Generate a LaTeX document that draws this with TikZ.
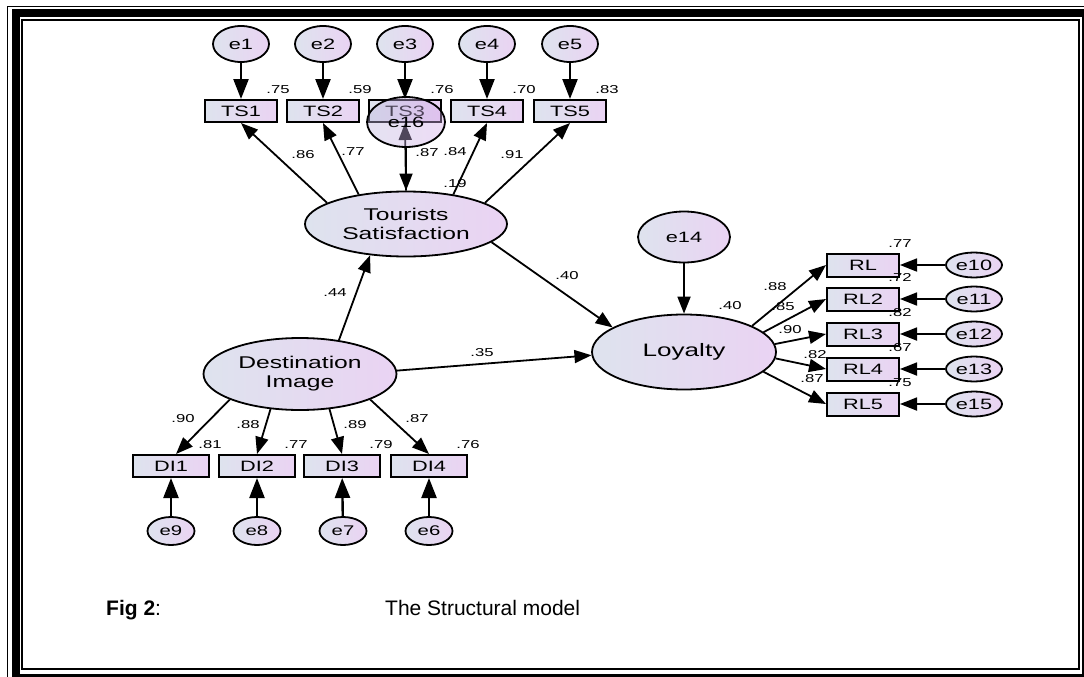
\documentclass[tikz,border=0pt]{standalone}
\usepackage{fontspec}
\setmainfont{Liberation Sans}
\newfontfamily\amosfont[FakeStretch=1.45]{Liberation Sans}
\usepackage{tikz}
\usetikzlibrary{positioning, shapes, arrows.meta}
\definecolor{amosgrey}{RGB}{222,227,238}
\definecolor{amoslilac}{RGB}{234,211,243}
\definecolor{overgrey}{RGB}{188,182,220}
\definecolor{overlilac}{RGB}{210,168,232}

\tikzset{
	lat/.style={ellipse, draw, line width=1.8pt, left color=amosgrey, right color=amoslilac, inner sep=0pt, align=center, font=\amosfont\fontsize{17}{19}\selectfont},
	obs/.style={rectangle, draw, line width=2pt, left color=amosgrey, right color=amoslilac, minimum width=72pt, minimum height=22pt, inner sep=0pt, font=\amosfont\fontsize{15}{16}\selectfont},
	err/.style={ellipse, draw, line width=1.8pt, left color=amosgrey, right color=amoslilac, inner sep=0pt, font=\amosfont\fontsize{15}{16}\selectfont},
	num/.style={inner sep=0pt, font=\amosfont\fontsize{11.5}{12}\selectfont},
	pth/.style={line width=1.8pt, -{Triangle[length=17pt, width=13pt]}},
	errpth/.style={line width=2.4pt, -{Triangle[length=20pt, width=15pt]}},
	capt/.style={inner sep=0pt, font=\fontsize{21}{23}\selectfont}
}

\begin{document}
\begin{tikzpicture}[x=1pt, y=-1pt]
	\useasboundingbox (0,0) rectangle (1084,677);
	% Frame:
	\begin{scope}
		\clip (0,0) rectangle (1084,677);
		\draw[line width=1.5pt] (7.5,6.5) rectangle (1100,700);
		\draw[line width=8pt] (15.5,13) rectangle (1085.5,677.5);
		\draw[line width=2pt] (22,20) rectangle (1079,669);
	\end{scope}

	% Tourists satisfaction block:
	\node[err, minimum width=56pt, minimum height=36pt] (e1) at (241,44) {e1};
	\node[err, minimum width=56pt, minimum height=36pt] (e2) at (323,44) {e2};
	\node[err, minimum width=56pt, minimum height=36pt] (e3) at (405,44) {e3};
	\node[err, minimum width=56pt, minimum height=36pt] (e4) at (487,44) {e4};
	\node[err, minimum width=56pt, minimum height=36pt] (e5) at (570,44) {e5};
	\node[obs] (TS1) at (241,111) {TS1};
	\node[obs] (TS2) at (323,111) {TS2};
	\node[obs] (TS3) at (405,111) {TS3};
	\node[obs] (TS4) at (487,111) {TS4};
	\node[obs] (TS5) at (570,111) {TS5};
	\node[lat, minimum width=202pt, minimum height=65pt] (TSat) at (406,224) {Tourists\\Satisfaction};
	\draw[errpth] (e1) -- (TS1);
	\draw[errpth] (e2) -- (TS2);
	\draw[errpth] (e3) -- (TS3);
	\draw[errpth] (e4) -- (TS4);
	\draw[errpth] (e5) -- (TS5);
	\draw[pth] (TSat.165) -- (TS1.south);
	\draw[pth] (TSat.148) -- (TS2.south);
	\draw[pth] (TSat.north) -- (TS3.south);
	\draw[pth] (TSat.32) -- (TS4.south);
	\draw[pth] (TSat.15) -- (TS5.south);
	% e16 sits on top of TS3
	\node[err, minimum width=78pt, minimum height=50pt, left color=overgrey, right color=overlilac, fill opacity=0.4, text opacity=1] (e16) at (406,122) {e16};
	\draw[pth] (e16) -- (TSat.north);
	\node[num, above=5pt of TS1.north east] (rTS1) {.75};
	\node[num, above=5pt of TS2.north east] (rTS2) {.59};
	\node[num, above=5pt of TS3.north east] (rTS3) {.76};
	\node[num, above=5pt of TS4.north east] (rTS4) {.70};
	\node[num, above=5pt of TS5.north east] (rTS5) {.83};
	\node[num] (lTS1) at (303,155) {.86};
	\node[num] (lTS2) at (353,152) {.77};
	\node[num] (lTS3) at (427,153) {.87};
	\node[num] (lTS4) at (455,152) {.84};
	\node[num] (lTS5) at (512,155) {.91};
	\node[num] (rTSat) at (455,184) {.19};

	% Destination image block:
	\node[lat, minimum width=193pt, minimum height=72pt] (DImg) at (300,374) {Destination\\Image};
	\node[obs, minimum width=76pt] (DI1) at (171,466) {DI1};
	\node[obs, minimum width=76pt] (DI2) at (257,466) {DI2};
	\node[obs, minimum width=76pt] (DI3) at (342,466) {DI3};
	\node[obs, minimum width=76pt] (DI4) at (429,466) {DI4};
	\node[err, minimum width=47pt, minimum height=28pt, font=\amosfont\fontsize{14}{15}\selectfont] (e9) at (171,531) {e9};
	\node[err, minimum width=47pt, minimum height=28pt, font=\amosfont\fontsize{14}{15}\selectfont] (e8) at (257,531) {e8};
	\node[err, minimum width=47pt, minimum height=28pt, font=\amosfont\fontsize{14}{15}\selectfont] (e7) at (343,531) {e7};
	\node[err, minimum width=47pt, minimum height=28pt, font=\amosfont\fontsize{14}{15}\selectfont] (e6) at (429,531) {e6};
	\draw[pth] (DImg.200) -- ([xshift=5pt]DI1.north);
	\draw[pth] (DImg.230) -- (DI2.north);
	\draw[pth] (DImg.310) -- (DI3.north);
	\draw[pth] (DImg.340) -- (DI4.north);
	\draw[errpth] (e9) -- (DI1);
	\draw[errpth] (e8) -- (DI2);
	\draw[errpth] (e7) -- (DI3);
	\draw[errpth] (e6) -- (DI4);
	\node[num, above=5pt of DI1.north east] (rDI1) {.81};
	\node[num, above=5pt of DI2.north east] (rDI2) {.77};
	\node[num, above=5pt of DI3.north east] (rDI3) {.79};
	\node[num, above=5pt of DI4.north east] (rDI4) {.76};
	\node[num] (lDI1) at (183,419) {.90};
	\node[num] (lDI2) at (248,425) {.88};
	\node[num] (lDI3) at (355,425) {.89};
	\node[num] (lDI4) at (417,419) {.87};

	% Loyalty block:
	\node[lat, minimum width=184pt, minimum height=75pt, font=\amosfont\fontsize{18}{19}\selectfont] (Loy) at (684,352) {Loyalty};
	\node[err, minimum width=92pt, minimum height=51pt] (e14) at (684,237) {e14};
	\node[obs, minimum height=23pt] (RL1) at (863,265) {RL};
	\node[obs, minimum height=23pt] (RL2) at (863,299) {RL2};
	\node[obs, minimum height=23pt] (RL3) at (863,334) {RL3};
	\node[obs, minimum height=23pt] (RL4) at (863,369) {RL4};
	\node[obs, minimum height=23pt] (RL5) at (863,404) {RL5};
	\node[err, minimum width=56pt, minimum height=25pt] (e10) at (974,265) {e10};
	\node[err, minimum width=56pt, minimum height=25pt] (e11) at (974,299) {e11};
	\node[err, minimum width=56pt, minimum height=25pt] (e12) at (974,334) {e12};
	\node[err, minimum width=56pt, minimum height=25pt] (e13) at (974,369) {e13};
	\node[err, minimum width=56pt, minimum height=25pt] (e15) at (974,404) {e15};
	\draw[pth] (e14) -- (Loy);
	\draw[pth] (Loy.21) -- (RL1.west);
	\draw[pth] (Loy.14) -- (RL2.west);
	\draw[pth] (Loy.5) -- (RL3.west);
	\draw[pth] (Loy.356) -- (RL4.west);
	\draw[pth] (Loy.346) -- (RL5.west);
	\draw[pth] (e10) -- (RL1);
	\draw[pth] (e11) -- (RL2);
	\draw[pth] (e12) -- (RL3);
	\draw[pth] (e13) -- (RL4);
	\draw[pth] (e15) -- (RL5);
	\node[num, above=5pt of RL1.north east] (rRL1) {.77};
	\node[num, above=5pt of RL2.north east] (rRL2) {.72};
	\node[num, above=5pt of RL3.north east] (rRL3) {.82};
	\node[num, above=5pt of RL4.north east] (rRL4) {.67};
	\node[num, above=5pt of RL5.north east] (rRL5) {.75};
	\node[num] (lRL1) at (775,287) {.88};
	\node[num] (lRL2) at (783,307) {.85};
	\node[num] (lRL3) at (790,330) {.90};
	\node[num] (lRL4) at (815,355) {.82};
	\node[num] (lRL5) at (812,379) {.87};
	\node[num] (rLoy) at (730,306) {.40};

	% Structural paths:
	\draw[pth] (DImg.41) -- (TSat.221);
	\draw[pth] (TSat.348) -- (Loy.161);
	\draw[pth] (DImg.2) -- (Loy.182);
	\node[num] (lDT) at (335,293) {.44};
	\node[num] (lTL) at (567,276) {.40};
	\node[num] (lDL) at (482,353) {.35};

	% Caption:
	\node[capt, anchor=base west] (fig) at (106,615) {\textbf{Fig 2}:};
	\node[capt, anchor=base west] (title) at (385,615) {The Structural model};
\end{tikzpicture}
\end{document}
